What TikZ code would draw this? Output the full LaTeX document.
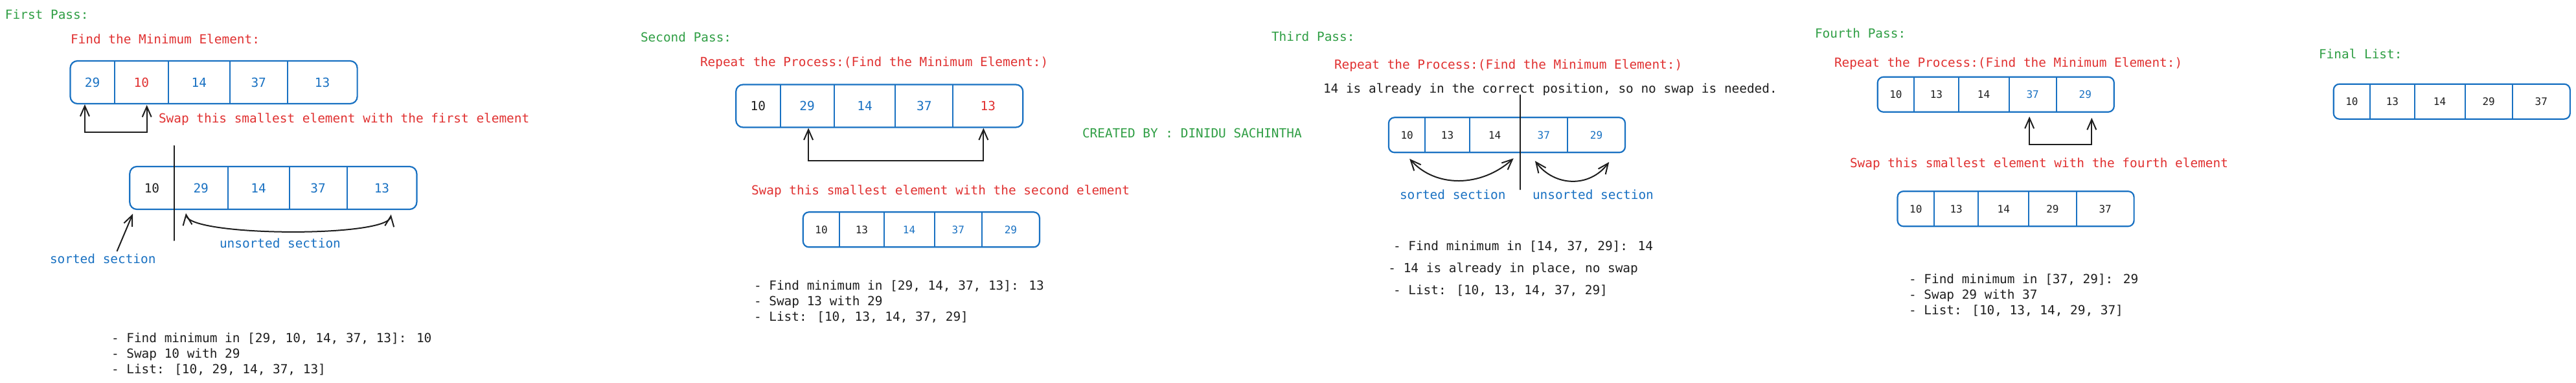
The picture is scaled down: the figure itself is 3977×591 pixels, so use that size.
\documentclass[tikz,border=0pt]{standalone}
\usepackage{fontspec}
\usepackage{xcolor}
\usepackage{tikz}
\usetikzlibrary{positioning, chains, arrows.meta}

\newfontfamily\sketchfont{DejaVu Sans Mono}
\newcommand{\bigtxt}{\sketchfont\fontsize{19.4pt}{24pt}\selectfont}
\newcommand{\smalltxt}{\sketchfont\fontsize{16pt}{20pt}\selectfont}

\definecolor{exgreen}{HTML}{2F9E44}
\definecolor{exred}{HTML}{E03131}
\definecolor{exblue}{HTML}{1971C2}
\definecolor{exblack}{HTML}{1E1E1E}

\begin{document}
\begin{tikzpicture}[x=1pt, y=-1pt, node distance=0pt]
	\tikzstyle{txt}=[anchor=base west, inner sep=0pt, outer sep=0pt, font=\bigtxt]
	\tikzstyle{heading}=[txt, text=exgreen]
	\tikzstyle{note}=[txt, text=exred]
	\tikzstyle{sectxt}=[txt, text=exblue]
	\tikzstyle{steptxt}=[txt, text=exblack]
	\tikzstyle{bigcell}=[inner sep=0pt, outer sep=0pt, minimum height=66pt, anchor=west, font=\bigtxt]
	\tikzstyle{smallcell}=[inner sep=0pt, outer sep=0pt, minimum height=54pt, anchor=west, font=\smalltxt]
	\tikzstyle{listframe}=[draw=exblue, line width=2.2pt, rounded corners=11pt]
	\tikzstyle{divline}=[draw=exblue, line width=2pt]
	\tikzstyle{sepline}=[draw=exblack, line width=2pt, line cap=round]
	\tikzstyle{swaparrow}=[draw=exblack, line width=2pt, line cap=round,
		{Straight Barb[length=16pt,width=14pt]}-{Straight Barb[length=16pt,width=14pt]}]
	\tikzstyle{curvearrow}=[swaparrow]
	\tikzstyle{pointarrow}=[draw=exblack, line width=2pt, line cap=round, -{Straight Barb[length=16pt,width=14pt]}]
	
	\useasboundingbox (0,0) rectangle (3977,591);
	
	% first pass
	\node[heading] (pass1) at (8,29.5) {First Pass:};
	\node[note] (find1) at (109,68) {Find the Minimum Element:};
	\begin{scope}[shift={(108.5,127)}, start chain=p1a going right]
		\foreach \w/\v/\c in {68.3/29/exblue, 83.2/10/exred, 94.7/14/exblue, 89/37/exblue, 107.9/13/exblue}
			\node[bigcell, minimum width=\w pt, text=\c, on chain] {\v};
	\end{scope}
	\draw[listframe] (p1a-1.north west) rectangle (p1a-5.south east);
	\foreach \i in {1,...,4} \draw[divline] (p1a-\i.north east) -- (p1a-\i.south east);
	\draw[swaparrow] ([xshift=-11.7pt,yshift=-1pt]p1a-1.south) -- ++(0,43) -| ([xshift=8.3pt,yshift=-2pt]p1a-2.south);
	\node[note] (swap1) at (245,189) {Swap this smallest element with the first element};
	
	\begin{scope}[shift={(200.3,290)}, start chain=p1b going right]
		\foreach \w/\v/\c in {68.3/10/exblack, 83.2/29/exblue, 94.7/14/exblue, 89/37/exblue, 107.9/13/exblue}
			\node[bigcell, minimum width=\w pt, text=\c, on chain] {\v};
	\end{scope}
	\draw[listframe] (p1b-1.north west) rectangle (p1b-5.south east);
	\foreach \i in {1,...,4} \draw[divline] (p1b-\i.north east) -- (p1b-\i.south east);
	\draw[sepline] ([yshift=32pt]p1b-1.north east) -- ([yshift=-48pt]p1b-1.south east);
	\node[sectxt] (sort1) at (77,406) {sorted section};
	\node[sectxt] (unsort1) at (339,382) {unsorted section};
	\draw[pointarrow] ([xshift=22pt,yshift=4pt]sort1.north) -- ([xshift=4.7pt,yshift=-7pt]p1b-1.south west);
	\draw[curvearrow] ([xshift=-23.2pt,yshift=-6pt]p1b-2.south) .. controls +(5,36) and +(-5,36) .. ([xshift=14.3pt,yshift=-8pt]p1b-5.south);
	
	\node[steptxt] (l1a) at (172,528) {- Find minimum in [29, 10, 14, 37, 13]: 10};
	\node[steptxt] (l1b) at ([yshift=-24pt]l1a.base west) {- Swap 10 with 29};
	\node[steptxt] (l1c) at ([yshift=-24pt]l1b.base west) {- List: [10, 29, 14, 37, 13]};
	
	% second pass
	\node[heading] (pass2) at (989,65) {Second Pass:};
	\node[note] (find2) at (1081,103) {Repeat the Process:(Find the Minimum Element:)};
	\begin{scope}[shift={(1136.2,163.5)}, start chain=p2a going right]
		\foreach \w/\v/\c in {68.3/10/exblack, 83.2/29/exblue, 94.7/14/exblue, 89/37/exblue, 107.9/13/exred}
			\node[bigcell, minimum width=\w pt, text=\c, on chain] {\v};
	\end{scope}
	\draw[listframe] (p2a-1.north west) rectangle (p2a-5.south east);
	\foreach \i in {1,...,4} \draw[divline] (p2a-\i.north east) -- (p2a-\i.south east);
	\draw[swaparrow] ([xshift=2pt,yshift=-1pt]p2a-2.south) -- ++(0,50) -| ([xshift=-7pt,yshift=-1pt]p2a-5.south);
	\node[note] (swap2) at (1160,300) {Swap this smallest element with the second element};
	
	\begin{scope}[shift={(1239.8,354.3)}, start chain=p2b going right]
		\foreach \w/\v/\c in {56.5/10/exblack, 68.3/13/exblack, 78/14/exblue, 73.3/37/exblue, 89/29/exblue}
			\node[smallcell, minimum width=\w pt, text=\c, on chain] {\v};
	\end{scope}
	\draw[listframe, rounded corners=9pt] (p2b-1.north west) rectangle (p2b-5.south east);
	\foreach \i in {1,...,4} \draw[divline] (p2b-\i.north east) -- (p2b-\i.south east);
	
	\node[steptxt] (l2a) at (1164,447) {- Find minimum in [29, 14, 37, 13]: 13};
	\node[steptxt] (l2b) at ([yshift=-24pt]l2a.base west) {- Swap 13 with 29};
	\node[steptxt] (l2c) at ([yshift=-24pt]l2b.base west) {- List: [10, 13, 14, 37, 29]};
	
	\node[heading] (credit) at (1671,212) {CREATED BY : DINIDU SACHINTHA};
	
	% third pass
	\node[heading] (pass3) at (1963,64) {Third Pass:};
	\node[note] (find3) at (2060,107) {Repeat the Process:(Find the Minimum Element:)};
	\node[steptxt] (keep3) at (2043,143) {14 is already in the correct position, so no swap is needed.};
	\begin{scope}[shift={(2143.9,208.3)}, start chain=p3 going right]
		\foreach \w/\v/\c in {56.5/10/exblack, 68.3/13/exblack, 78/14/exblack, 73.3/37/exblue, 89/29/exblue}
			\node[smallcell, minimum width=\w pt, text=\c, on chain] {\v};
	\end{scope}
	\draw[listframe, rounded corners=9pt] (p3-1.north west) rectangle (p3-5.south east);
	\foreach \i in {1,...,4} \draw[divline] (p3-\i.north east) -- (p3-\i.south east);
	\draw[sepline] ([yshift=34.6pt]p3-3.north east) -- ([yshift=-57pt]p3-3.south east);
	\draw[curvearrow] ([xshift=4pt,yshift=-9.7pt]p3-1.south) .. controls +(40,45) and +(-50,45) .. ([xshift=29pt,yshift=-9pt]p3-3.south);
	\draw[curvearrow] ([xshift=-13.5pt,yshift=-13pt]p3-4.south) .. controls +(30,40) and +(-30,40) .. ([xshift=19.7pt,yshift=-14.7pt]p3-5.south);
	\node[sectxt] (sort3) at (2161,307) {sorted section};
	\node[sectxt] (unsort3) at (2366,307) {unsorted section};
	
	\node[steptxt] (l3a) at (2151,386) {- Find minimum in [14, 37, 29]: 14};
	\node[steptxt] (l3b) at ([xshift=-7.6pt,yshift=-34pt]l3a.base west) {- 14 is already in place, no swap};
	\node[steptxt] (l3c) at ([yshift=-68pt]l3a.base west) {- List: [10, 13, 14, 37, 29]};
	
	% fourth pass
	\node[heading] (pass4) at (2802,59) {Fourth Pass:};
	\node[note] (find4) at (2832,104) {Repeat the Process:(Find the Minimum Element:)};
	\begin{scope}[shift={(2898.7,145.8)}, start chain=p4a going right]
		\foreach \w/\v/\c in {56.5/10/exblack, 68.3/13/exblack, 78/14/exblack, 73.3/37/exblue, 89/29/exblue}
			\node[smallcell, minimum width=\w pt, text=\c, on chain] {\v};
	\end{scope}
	\draw[listframe, rounded corners=9pt] (p4a-1.north west) rectangle (p4a-5.south east);
	\foreach \i in {1,...,4} \draw[divline] (p4a-\i.north east) -- (p4a-\i.south east);
	\draw[swaparrow] ([xshift=-5pt,yshift=-7pt]p4a-4.south) -- ++(0,43.3) -| ([xshift=10pt,yshift=-9pt]p4a-5.south);
	\node[note] (swap4) at (2856,258) {Swap this smallest element with the fourth element};
	
	\begin{scope}[shift={(2929.5,322.2)}, start chain=p4b going right]
		\foreach \w/\v/\c in {56.5/10/exblack, 68.3/13/exblack, 78/14/exblack, 73.3/29/exblack, 89/37/exblack}
			\node[smallcell, minimum width=\w pt, text=\c, on chain] {\v};
	\end{scope}
	\draw[listframe, rounded corners=9pt] (p4b-1.north west) rectangle (p4b-5.south east);
	\foreach \i in {1,...,4} \draw[divline] (p4b-\i.north east) -- (p4b-\i.south east);
	
	\node[steptxt] (l4a) at (2947,437) {- Find minimum in [37, 29]: 29};
	\node[steptxt] (l4b) at ([yshift=-24pt]l4a.base west) {- Swap 29 with 37};
	\node[steptxt] (l4c) at ([yshift=-24pt]l4b.base west) {- List: [10, 13, 14, 29, 37]};
	
	% final list
	\node[heading] (final) at (3580,91) {Final List:};
	\begin{scope}[shift={(3602.7,156.7)}, start chain=fin going right]
		\foreach \w/\v/\c in {56.5/10/exblack, 68.3/13/exblack, 78/14/exblack, 73.3/29/exblack, 89/37/exblack}
			\node[smallcell, minimum width=\w pt, text=\c, on chain] {\v};
	\end{scope}
	\draw[listframe, rounded corners=9pt] (fin-1.north west) rectangle (fin-5.south east);
	\foreach \i in {1,...,4} \draw[divline] (fin-\i.north east) -- (fin-\i.south east);
\end{tikzpicture}
\end{document}
